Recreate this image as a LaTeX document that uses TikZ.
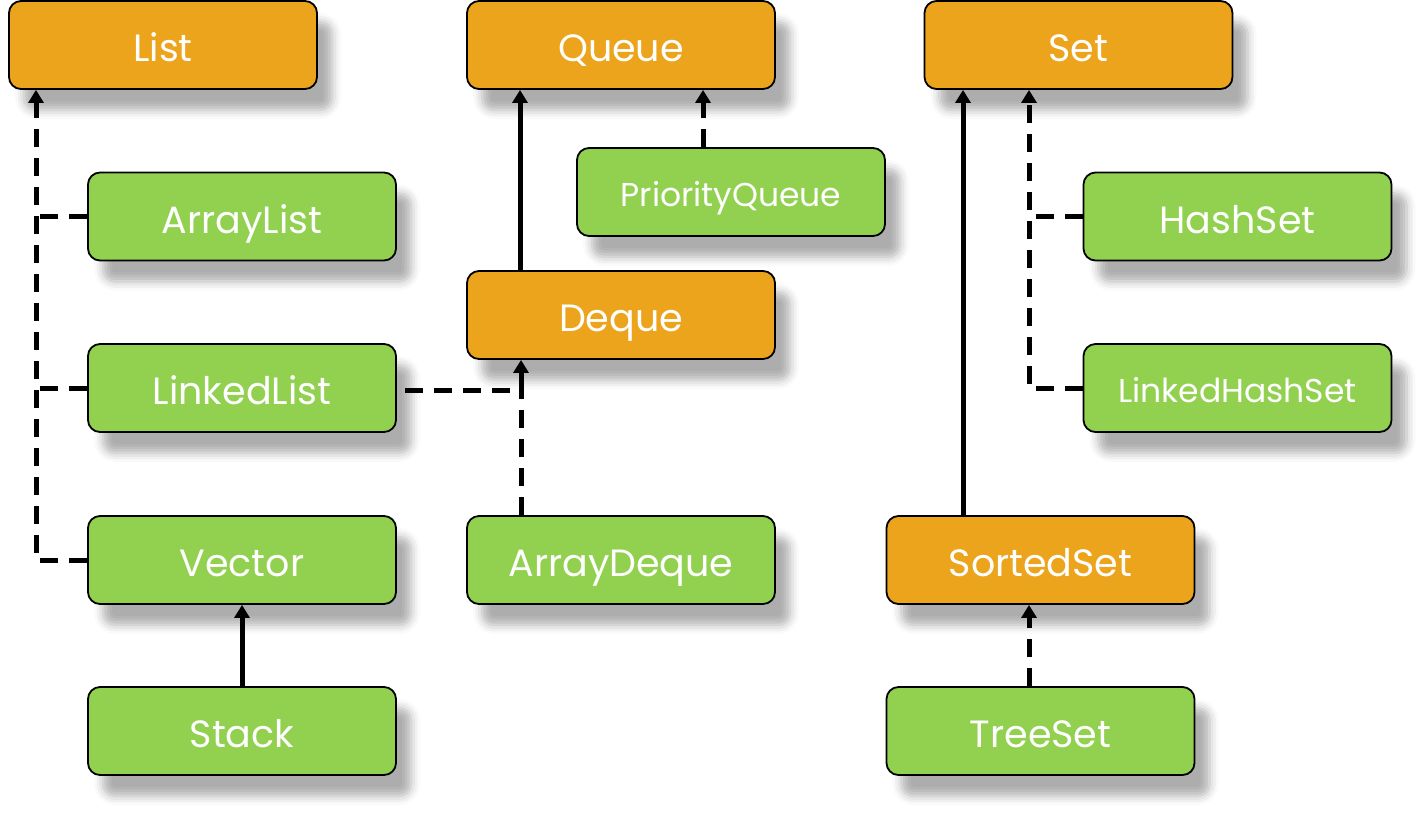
\documentclass[tikz,border=0pt]{standalone}
\usepackage{fontspec}
\setmainfont{Poppins}
\usetikzlibrary{arrows.meta,shadows.blur}
\definecolor{boxorange}{HTML}{EDA41D}
\definecolor{boxgreen}{HTML}{92D050}
\tikzset{
  box/.style={rectangle, rounded corners=12pt, draw=black, line width=1.8pt,
    minimum width=308pt, minimum height=88pt, inner sep=0pt, text=white,
    font=\fontsize{38}{42}\selectfont, text height=33pt, text depth=0pt,
    blur shadow={shadow xshift=15pt, shadow yshift=-21pt, shadow blur radius=9pt, shadow opacity=32}},
  iface/.style={box, fill=boxorange},
  impl/.style={box, fill=boxgreen},
  small/.style={font=\fontsize{33}{36}\selectfont, text height=29pt},
  conn/.style={line width=5pt, -{Triangle[width=15pt,length=13pt]}},
  dconn/.style={conn, dash pattern=on 18pt off 11pt},
  dline/.style={line width=5pt, dash pattern=on 18pt off 11pt},
}
\begin{document}
\begin{tikzpicture}[x=1pt,y=-1pt]
\useasboundingbox (0,0) rectangle (1426,812);
% interfaces
\node[iface] (List) at (163,45) {List};
\node[iface] (Queue) at (621,45) {Queue};
\node[iface] (Set) at (1078.5,45) {Set};
\node[iface] (Deque) at (621,315) {Deque};
\node[iface] (SortedSet) at (1040.5,560) {SortedSet};
% implementations
\node[impl] (ArrayList) at (242,216.5) {ArrayList};
\node[impl,small] (PriorityQueue) at (731,192) {PriorityQueue};
\node[impl] (HashSet) at (1237.5,216.5) {HashSet};
\node[impl] (LinkedList) at (242,388) {LinkedList};
\node[impl,small] (LinkedHashSet) at (1237.5,388) {LinkedHashSet};
\node[impl] (Vector) at (242,560) {Vector};
\node[impl] (ArrayDeque) at (621,560) {ArrayDeque};
\node[impl] (Stack) at (242,731) {Stack};
\node[impl] (TreeSet) at (1040.5,731) {TreeSet};
% guide coordinates
\coordinate (lx) at (36,0);
\coordinate (qx) at (520,0);
\coordinate (px) at (703,0);
\coordinate (dx) at (521,0);
\coordinate (sx) at (963,0);
\coordinate (hx) at (1029,0);
\coordinate (llstart) at (405,390);
% List family
\draw[dconn] (Vector.west) -| (lx |- List.south);
\draw[dline] (ArrayList.west) -- (lx |- ArrayList.west);
\draw[dline] (LinkedList.west) -- (lx |- LinkedList.west);
\draw[conn] (Stack.north) -- (Vector.south);
% Queue family
\draw[conn] (qx |- Deque.north) -- (qx |- Queue.south);
\draw[dconn] (px |- PriorityQueue.north) -- (px |- Queue.south);
\draw[dconn] (llstart) -| (dx |- Deque.south);
\draw[dline] (dx |- ArrayDeque.north) -- (dx |- llstart);
% Set family
\draw[conn] (sx |- SortedSet.north) -- (sx |- Set.south);
\draw[dconn] (LinkedHashSet.west) -| (hx |- Set.south);
\draw[dline] (HashSet.west) -- (hx |- HashSet.west);
\draw[dconn] (hx |- TreeSet.north) -- (hx |- SortedSet.south);
\end{tikzpicture}
\end{document}
